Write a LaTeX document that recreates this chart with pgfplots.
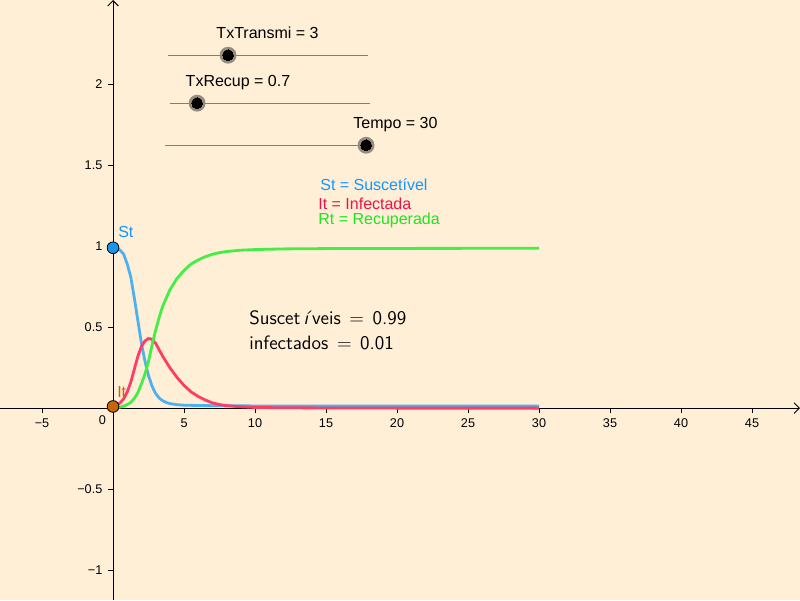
\documentclass[border=0pt]{standalone}
\usepackage{pgfplots}
\usepackage{pgfplotstable}
\pgfplotsset{compat=1.18}
\usepackage{fontspec}
\setmainfont{Liberation Sans}
\usetikzlibrary{arrows.meta}

\definecolor{bgc}{RGB}{255,239,214}
\definecolor{sblue}{RGB}{77,176,240}
\definecolor{ired}{RGB}{255,60,100}
\definecolor{rgreen}{RGB}{68,238,68}
\definecolor{stxt}{RGB}{20,150,255}
\definecolor{itxt}{RGB}{235,20,70}
\definecolor{rtxt}{RGB}{30,230,30}
\definecolor{ptblue}{RGB}{25,150,235}
\definecolor{ptbrown}{RGB}{200,100,10}
\definecolor{slider}{RGB}{135,125,110}
\definecolor{halo}{RGB}{150,140,125}

% t, suscetiveis, infectados, recuperados
\pgfplotstableread{
t     S      I      R
0     0.990  0.010  0.000
0.25  0.987  0.018  0.002
0.5   0.975  0.032  0.006
0.75  0.950  0.057  0.012
1.0   0.890  0.100  0.022
1.25  0.810  0.160  0.035
1.5   0.680  0.240  0.060
1.75  0.540  0.320  0.095
2.0   0.400  0.380  0.150
2.25  0.290  0.415  0.210
2.5   0.200  0.430  0.290
2.75  0.135  0.425  0.390
3.0   0.090  0.400  0.480
3.25  0.062  0.360  0.560
3.5   0.045  0.320  0.630
3.75  0.035  0.285  0.680
4.0   0.028  0.250  0.730
4.5   0.021  0.190  0.800
5.0   0.018  0.140  0.850
5.5   0.017  0.100  0.890
6.0   0.016  0.072  0.915
6.5   0.0155 0.050  0.935
7.0   0.015  0.032  0.950
7.5   0.0145 0.022  0.960
8.0   0.014  0.015  0.967
9.0   0.0138 0.008  0.975
10    0.0135 0.004  0.979
12    0.013  0.002  0.983
15    0.013  0.001  0.985
20    0.013  0.000  0.986
30    0.013  0.000  0.987
}\sirdata

\begin{document}
\begin{tikzpicture}
\begin{axis}[
    width=600pt, height=450pt, scale only axis,
    xmin=-7.96, xmax=48.38, ymin=-1.185, ymax=2.52,
    axis lines=middle,
    axis line style={line width=0.7pt, -{Straight Barb[length=4pt,width=8pt]}},
    axis background/.style={fill=bgc},
    tick align=outside,
    major tick length=3.5pt,
    tick style={black, line width=0.6pt},
    xtick={-5,5,10,15,20,25,30,35,40,45},
    xticklabels={−5,5,10,15,20,25,30,35,40,45},
    ytick={-1,-0.5,0.5,1,1.5,2},
    yticklabels={−1,−0.5,0.5,1,1.5,2},
    ticklabel style={font=\fontsize{9.5}{11}\selectfont},
    xticklabel style={yshift=-1pt},
    yticklabel style={xshift=-1pt},
    clip=false,
]
% curvas
\addplot[sblue, line width=2.1pt] table[x=t, y=S] {\sirdata};
\addplot[ired, line width=2.1pt] table[x=t, y=I] {\sirdata};
\addplot[rgreen, line width=2.1pt] table[x=t, y=R] {\sirdata};

% pontos iniciais
\addplot[only marks, mark=*, mark size=4.4pt, mark options={fill=ptblue, draw=black, line width=0.6pt}] coordinates {(0,0.99)};
\addplot[only marks, mark=*, mark size=4.4pt, mark options={fill=ptbrown, draw=black, line width=0.6pt}] coordinates {(0,0.01)};

% controles deslizantes
\addplot[slider, line width=0.7pt] coordinates {(3.87,2.179) (17.96,2.179)};
\addplot[slider, line width=0.7pt] coordinates {(4.01,1.883) (18.10,1.883)};
\addplot[slider, line width=0.7pt] coordinates {(3.66,1.623) (17.82,1.623)};
\addplot[only marks, mark=*, mark size=5.2pt, mark options={fill=black, draw=halo, line width=2.2pt}]
    coordinates {(8.10,2.179) (5.92,1.883) (17.82,1.623)};
\addplot[only marks, mark=*, mark size=4.0pt, mark options={fill=black, draw=black, line width=0pt}]
    coordinates {(8.10,2.179) (5.92,1.883) (17.82,1.623)};

\node[font=\fontsize{12}{14}\selectfont] at (axis cs:10.88,2.315) {TxTransmi = 3};
\node[font=\fontsize{12}{14}\selectfont] at (axis cs:8.80,2.012) {TxRecup = 0.7};
\node[font=\fontsize{12}{14}\selectfont] at (axis cs:19.89,1.753) {Tempo = 30};

% legendas
\node[anchor=west, inner sep=0pt, text=stxt, font=\fontsize{12}{14}\selectfont] at (axis cs:14.58,1.377) {St = Suscetível};
\node[anchor=west, inner sep=0pt, text=itxt, font=\fontsize{12}{14}\selectfont] at (axis cs:14.44,1.259) {It = Infectada};
\node[anchor=west, inner sep=0pt, text=rtxt, font=\fontsize{12}{14}\selectfont] at (axis cs:14.44,1.160) {Rt = Recuperada};

\node[anchor=west, inner sep=0pt, text=stxt, font=\fontsize{12}{14}\selectfont] at (axis cs:0.35,1.09) {St};
\node[anchor=west, inner sep=0pt, text=ptbrown, font=\fontsize{12}{14}\selectfont] at (axis cs:0.28,0.10) {It};

\node[anchor=west, inner sep=0pt, font=\sffamily\fontsize{14.5}{17}\selectfont] at (axis cs:9.58,0.556) {Suscet\,\textit{í}veis\;\,$=$\;\,0.99};
\node[anchor=west, inner sep=0pt, font=\sffamily\fontsize{14.5}{17}\selectfont] at (axis cs:9.58,0.40) {infectados\;\,$=$\;\,0.01};

\node[font=\fontsize{9.5}{11}\selectfont] at (axis cs:-0.75,-0.075) {0};
\end{axis}
\pgfresetboundingbox
\path (current axis.south west) rectangle (current axis.north east);
\end{tikzpicture}
\end{document}
